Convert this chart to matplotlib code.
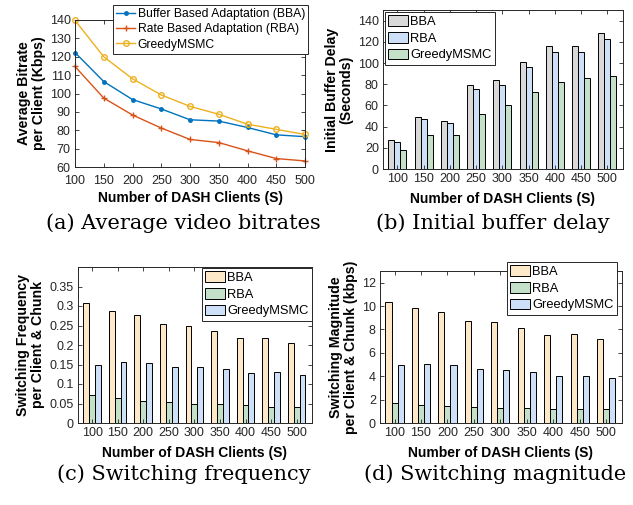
#######################################
# 1. modules
#######################################
import matplotlib
matplotlib.use("Agg")
import matplotlib.pyplot as plt
import numpy as np

#######################################
# 2. data
#######################################
CLIENTS = [100, 150, 200, 250, 300, 350, 400, 450, 500]
CLIENT_LABELS = [str(c) for c in CLIENTS]

# (a) average bitrate (Kbps)
BITRATE_BBA = [122.3, 106.5, 96.7, 91.6, 85.7, 85.0, 81.5, 77.5, 76.5]
BITRATE_RBA = [114.7, 97.5, 88.3, 81.2, 75.0, 73.3, 68.8, 64.6, 63.3]
BITRATE_GREEDY = [139.8, 120.0, 108.0, 99.2, 93.0, 88.7, 83.3, 80.5, 77.7]

# (b) initial buffer delay (seconds)
DELAY_BBA = [26.9, 49.4, 45.0, 79.0, 83.7, 100.6, 116.0, 116.0, 128.4]
DELAY_RBA = [25.6, 47.2, 43.0, 75.6, 79.7, 96.0, 110.0, 110.0, 122.5]
DELAY_GREEDY = [17.5, 32.5, 32.0, 51.6, 60.0, 72.8, 82.2, 85.6, 88.1]

# (c) switching frequency
FREQ_BBA = [0.307, 0.286, 0.276, 0.255, 0.249, 0.235, 0.217, 0.217, 0.204]
FREQ_RBA = [0.073, 0.063, 0.057, 0.054, 0.050, 0.048, 0.045, 0.042, 0.040]
FREQ_GREEDY = [0.150, 0.156, 0.155, 0.144, 0.143, 0.139, 0.129, 0.130, 0.123]

# (d) switching magnitude (kbps)
MAG_BBA = [10.38, 9.86, 9.52, 8.75, 8.67, 8.15, 7.55, 7.61, 7.18]
MAG_RBA = [1.68, 1.54, 1.45, 1.40, 1.31, 1.31, 1.23, 1.17, 1.17]
MAG_GREEDY = [4.96, 5.02, 4.96, 4.59, 4.53, 4.33, 3.99, 4.02, 3.82]

#######################################
# 3. settings
#######################################
plt.rcParams["font.family"] = ["Liberation Sans", "DejaVu Sans"]
AX_COLOR = "#262626"
TICK_SIZE = 9
XLABEL_SIZE = 10
YLABEL_SIZE = 10.2
CAPTION_FONT = ["DejaVu Serif"]
CAPTION_SIZE = 15

GRAY = "#d9d9d9"
LBLUE = "#cde0f8"
LGREEN = "#c4e0c8"
LORANGE = "#fde8c8"


#######################################
# 4. helpers
#######################################
def style_axes(ax, xpad=3):
    ax.tick_params(direction="in", top=True, right=True, labelsize=TICK_SIZE,
                   colors=AX_COLOR, length=3, width=0.6, pad=3)
    ax.tick_params(axis="x", pad=xpad)
    for s in ax.spines.values():
        s.set_color(AX_COLOR)
        s.set_linewidth(0.7)


def grouped_bars(ax, series, colors, names):
    x = np.arange(1, len(CLIENTS) + 1)
    w = 0.23
    for i, (vals, col, name) in enumerate(zip(series, colors, names)):
        ax.bar(x + (i - 1) * w, vals, w, color=col, edgecolor="black",
               linewidth=0.7, label=name)
    ax.set_xticks(x)
    ax.set_xticklabels(CLIENT_LABELS)
    ax.set_xlim(0.45, 9.6)


def legend_box(ax, fig, bbox, size, spacing, hlen):
    leg = ax.legend(loc="upper left", bbox_to_anchor=bbox,
                    bbox_transform=fig.transFigure, fontsize=size,
                    frameon=True, fancybox=False, borderpad=0.25,
                    labelspacing=spacing, handlelength=hlen,
                    handleheight=0.9, handletextpad=0.2, borderaxespad=0.0)
    leg.get_frame().set_edgecolor(AX_COLOR)
    leg.get_frame().set_linewidth(0.7)
    leg.get_frame().set_alpha(1)
    leg.set_zorder(5)
    return leg


def labels(ax, ytext):
    ax.set_xlabel("Number of DASH Clients (S)", fontsize=XLABEL_SIZE,
                  fontweight="bold", labelpad=5)
    ax.set_ylabel(ytext, fontsize=YLABEL_SIZE, fontweight="bold",
                  labelpad=3, linespacing=1.1)


#######################################
# 5. main
#######################################
def main():
    W, H = 633, 505
    fig = plt.figure(figsize=(W / 100, H / 100), dpi=100)

    def rect(l, r, t, b):
        return [l / W, 1 - b / H, (r - l) / W, (b - t) / H]

    # (a) line chart
    ax = fig.add_axes(rect(75, 305, 20, 167))
    ax.plot(CLIENTS, BITRATE_BBA, "-", color="#0072BD", marker=".",
            markersize=5, linewidth=1.0, clip_on=False,
            label="Buffer Based Adaptation (BBA)")
    ax.plot(CLIENTS, BITRATE_RBA, "-", color="#D95319", marker="+",
            markersize=4, linewidth=1.0, clip_on=False,
            label="Rate Based Adaptation (RBA)")
    ax.plot(CLIENTS, BITRATE_GREEDY, "-", color="#EDB120", marker="o",
            markersize=4, markerfacecolor="none", linewidth=1.0,
            clip_on=False, label="GreedyMSMC")
    ax.set_xlim(100, 500)
    ax.set_ylim(60, 140)
    ax.set_xticks(CLIENTS)
    ax.set_yticks(np.arange(60, 141, 10))
    style_axes(ax, xpad=5.5)
    labels(ax, "Average Bitrate\nper Client (Kbps)")
    ax.xaxis.labelpad = 3
    legend_box(ax, fig, (113 / W, 1 - 5 / H), 8.7, 0.25, 1.6)

    # (b) initial buffer delay
    ax = fig.add_axes(rect(383, 623, 10, 169))
    grouped_bars(ax, [DELAY_BBA, DELAY_RBA, DELAY_GREEDY],
                 [GRAY, LBLUE, LGREEN], ["BBA", "RBA", "GreedyMSMC"])
    ax.set_ylim(0, 150)
    ax.set_yticks(np.arange(0, 141, 20))
    style_axes(ax)
    labels(ax, "Initial Buffer Delay\n(Seconds)")
    legend_box(ax, fig, (385 / W, 1 - 12 / H), 9.3, 0.3, 1.5)

    # (c) switching frequency
    ax = fig.add_axes(rect(78, 312, 267, 423))
    grouped_bars(ax, [FREQ_BBA, FREQ_RBA, FREQ_GREEDY],
                 [LORANGE, LGREEN, LBLUE], ["BBA", "RBA", "GreedyMSMC"])
    ax.set_ylim(0, 0.4)
    ax.set_yticks(np.arange(0, 0.351, 0.05))
    ax.set_yticklabels(["0", "0.05", "0.1", "0.15", "0.2", "0.25", "0.3", "0.35"])
    style_axes(ax)
    labels(ax, "Switching Frequency\nper Client & Chunk")
    legend_box(ax, fig, (202 / W, 1 - 268 / H), 9.3, 0.3, 1.5)

    # (d) switching magnitude
    ax = fig.add_axes(rect(380, 622, 271, 423))
    grouped_bars(ax, [MAG_BBA, MAG_RBA, MAG_GREEDY],
                 [LORANGE, LGREEN, LBLUE], ["BBA", "RBA", "GreedyMSMC"])
    ax.set_ylim(0, 13)
    ax.set_yticks(np.arange(0, 13, 2))
    style_axes(ax)
    labels(ax, "Switching Magnitude\nper Client & Chunk (kbps)")
    legend_box(ax, fig, (507 / W, 1 - 262 / H), 9.3, 0.3, 1.5)

    # captions
    fig.text(183 / W, 1 - 223 / H, "(a) Average video bitrates",
             family=CAPTION_FONT, fontsize=CAPTION_SIZE, ha="center", va="center")
    fig.text(493 / W, 1 - 223 / H, "(b) Initial buffer delay",
             family=CAPTION_FONT, fontsize=CAPTION_SIZE, ha="center", va="center")
    fig.text(184 / W, 1 - 474 / H, "(c) Switching frequency",
             family=CAPTION_FONT, fontsize=CAPTION_SIZE, ha="center", va="center")
    fig.text(495 / W, 1 - 474 / H, "(d) Switching magnitude",
             family=CAPTION_FONT, fontsize=CAPTION_SIZE, ha="center", va="center")

    fig.savefig("out.png", dpi=100)


#######################################
# 6. run
#######################################
if __name__ == "__main__":
    main()
